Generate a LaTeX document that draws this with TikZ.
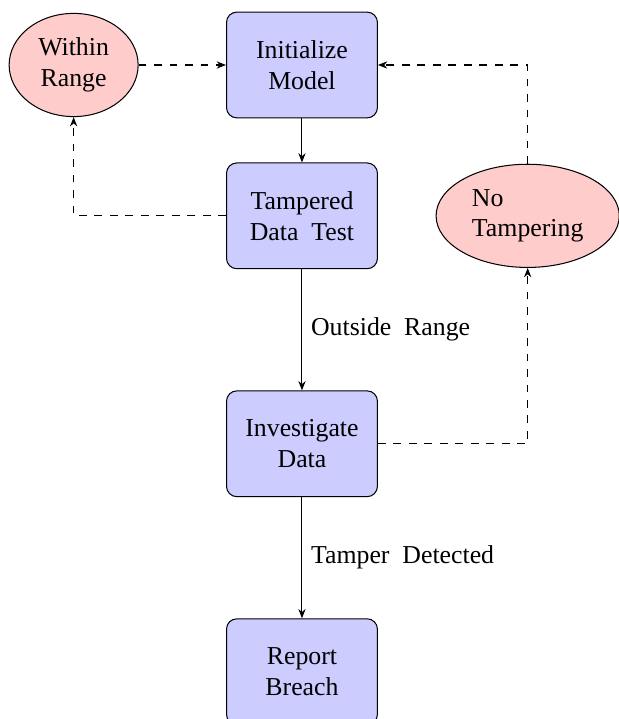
\documentclass[tikz,border=0pt]{standalone}
\usepackage{fontspec}
\setmainfont[WordSpace=2]{Liberation Serif}
\usepackage{tikz}
\usetikzlibrary{arrows.meta,positioning,shapes.geometric}

\begin{document}
\begin{tikzpicture}[>={Stealth[length=3.6pt,width=2.8pt]},node distance=6mm]
\tikzstyle{proc}=[draw,rounded corners,fill=blue!20,align=center,minimum width=58.5pt,minimum height=41pt]
\tikzstyle{dec}=[draw,ellipse,fill=red!20,minimum height=40pt]
\useasboundingbox (-117.05pt,25.19pt) rectangle (122.87pt,-253.5pt);
\node[proc] (init) {Initialize\\Model};
\node[proc,below=of init] (test) {Tampered\\Data Test};
\node[proc,below=16.5mm of test] (inv) {Investigate\\Data};
\node[proc,below=16.5mm of inv] (rep) {Report\\Breach};
\node[dec,align=center,minimum width=50pt,left=11.9mm of init] (within) {Within\\Range};
\node[dec,align=left,minimum width=71pt,right=7.85mm of test] (none) {No\\Tampering};
\draw[->] (init) -- (test);
\draw[->] (test) -- node[right] {Outside Range} (inv);
\draw[->] (inv) -- node[right] {Tamper Detected} (rep);
% loops back to the model
\draw[->,dashed] (test.west) -| (within.south);
\draw[->,dashed] (within.east) -- (init.west);
\draw[->,dashed] (inv.east) -| (none.south);
\draw[->,dashed] (none.north) |- (init.east);
\end{tikzpicture}
\end{document}
